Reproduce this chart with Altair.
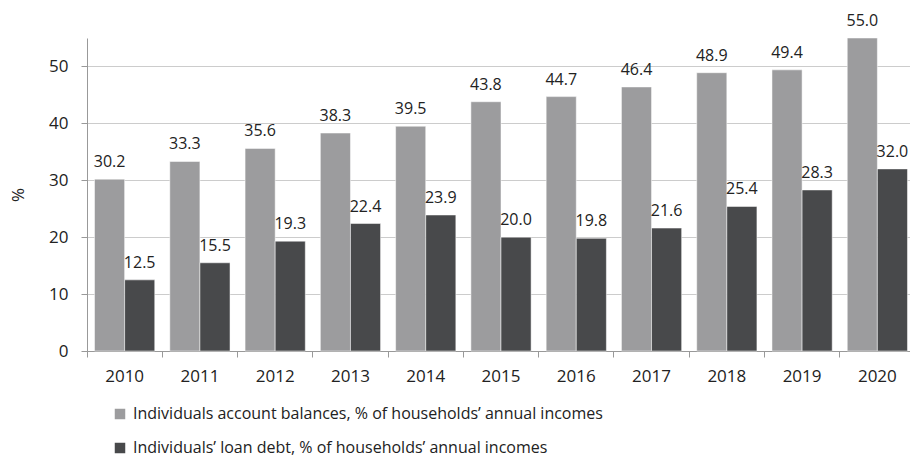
import altair as alt
import pandas as pd

years = ["2010", "2011", "2012", "2013", "2014", "2015", "2016", "2017", "2018", "2019", "2020"]
balances = [30.2, 33.3, 35.6, 38.3, 39.5, 43.8, 44.7, 46.4, 48.9, 49.4, 55.0]
loans = [12.5, 15.5, 19.3, 22.4, 23.9, 20.0, 19.8, 21.6, 25.4, 28.3, 32.0]
series = [
    "Individuals account balances, % of households\u2019 annual incomes",
    "Individuals\u2019 loan debt, % of households\u2019 annual incomes",
]
colors = ["#9c9c9e", "#48494b"]

rows = []
for y, b, l in zip(years, balances, loans):
    rows.append({"year": y, "series": series[0], "value": b})
    rows.append({"year": y, "series": series[1], "value": l})
df = pd.DataFrame(rows)

FONT = "Open Sans"

x = alt.X("year:N", title=None,
          scale=alt.Scale(paddingInner=0, paddingOuter=0, range=[0, 828]),
          axis=alt.Axis(labelAngle=0, bandPosition=0, tickSize=6, labelPadding=11,
                        labelFontSize=17, labelColor="#222", labelFont=FONT,
                        domainColor="#999", tickColor="#999", grid=False))
xo = alt.XOffset("series:N", sort=series,
                 scale=alt.Scale(paddingOuter=0.25, paddingInner=0))
y = alt.Y("value:Q", title="%",
          scale=alt.Scale(domain=[0, 55], nice=False),
          axis=alt.Axis(values=[0, 10, 20, 30, 40, 50], tickSize=6, labelPadding=13,
                        labelFontSize=17, labelColor="#222", labelFont=FONT,
                        domainColor="#999", tickColor="#999", gridColor="#cccccc",
                        titleFontSize=17, titleFont=FONT, titleFontWeight="normal",
                        titleColor="#222", titlePadding=21))

bars = alt.Chart(df).mark_bar(stroke="white", strokeWidth=0.5).encode(
    x=x, xOffset=xo, y=y,
    color=alt.Color("series:N", sort=series,
                    scale=alt.Scale(domain=series, range=colors),
                    legend=alt.Legend(title=None, orient="none", legendX=25, legendY=368,
                                      symbolType="square", symbolSize=110,
                                      symbolStrokeWidth=0, labelFontSize=16,
                                      labelFont=FONT, labelColor="#222", labelLimit=0,
                                      rowPadding=18, symbolOffset=0, labelOffset=5,
                                      direction="vertical")),
)

labels = alt.Chart(df).mark_text(baseline="alphabetic", dy=-12, fontSize=16,
                                 font=FONT, color="#222").encode(
    x=alt.X("year:N"), xOffset=alt.XOffset("series:N", sort=series), y=alt.Y("value:Q"),
    text=alt.Text("value:Q", format=".1f"),
)

chart = (bars + labels).properties(
    width=823, height=313,
    autosize=alt.AutoSizeParams(type="none"),
    padding={"left": 79, "top": 30, "right": 0, "bottom": 120},
).configure_view(stroke=None).configure_axisY(domain=True)

chart.save("out.html", embed_options={"renderer": "svg", "actions": False})
